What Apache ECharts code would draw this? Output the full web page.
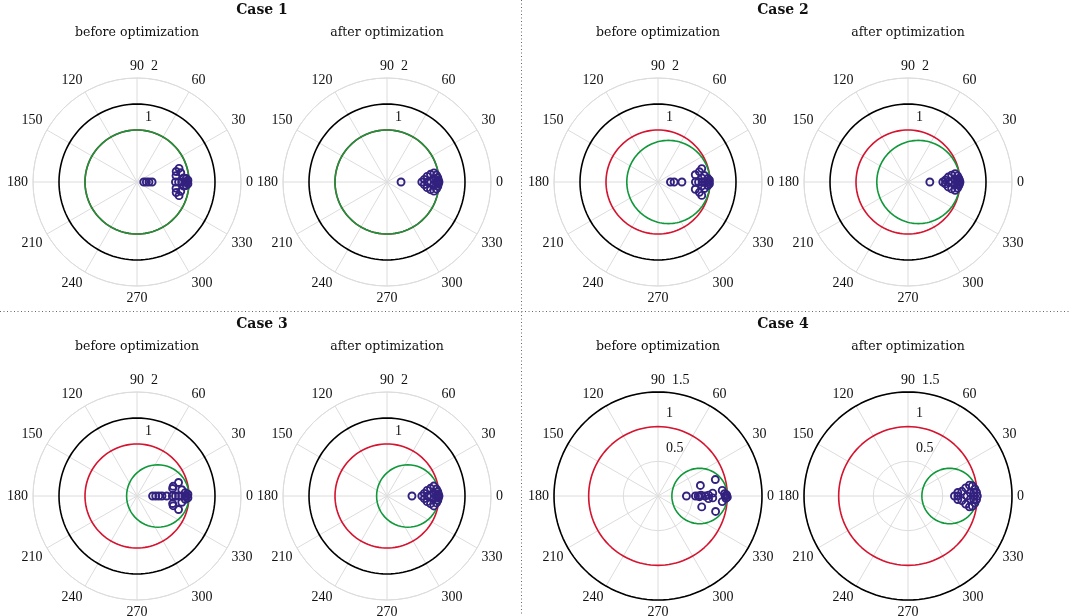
<!DOCTYPE html>
<html>
<head>
<meta charset="utf-8">
<script src="https://cdn.jsdelivr.net/npm/echarts@6/dist/echarts.min.js"></script>
<style>
  html, body { margin: 0; padding: 0; background: #fff; }
  #chart { width: 1069px; height: 616px; }
</style>
</head>
<body>
<div id="chart"></div>
<script>
// titles
const caseTitles = ['Case 1', 'Case 2', 'Case 3', 'Case 4'];
const panelTitles = ['before optimization', 'after optimization'];

// radial axis per case
const radialMax = [2, 2, 2, 1.5];
const radialStep = [1, 1, 1, 0.5];

// reference circles per case (radius units)
const blackCircleR = [1.5, 1.5, 1.5, 1.5];
const redCircleR = [1, 1, 1, 1];
const greenCircleOffset = [0, 0.2, 0.4, 0.6];
const greenCircleR = [1, 0.8, 0.6, 0.4];

// points [radius, angle in degrees]
const case1Before = [
  [0.13, 0], [0.18, 0], [0.23, 0], [0.29, 0],
  [0.74, 0], [0.8, 0], [0.86, 0], [0.92, 0], [0.96, 0], [0.98, 2], [0.98, -2],
  [0.95, 4], [0.95, -4], [0.9, 5], [0.9, -5],
  [0.76, 9], [0.78, 15], [0.85, 18], [0.86, 12],
  [0.76, -9], [0.78, -15], [0.85, -18], [0.86, -12]
];
const case1After = [
  [0.27, 0], [0.67, 0], [0.72, 4], [0.72, -4], [0.78, 8], [0.78, -8],
  [0.85, 10], [0.85, -10], [0.92, 11], [0.92, -11], [0.96, 8], [0.96, -8],
  [0.98, 5], [0.98, -5], [0.99, 2], [0.99, -2], [1.0, 0], [0.95, 0],
  [0.9, 3], [0.9, -3], [0.84, 0], [0.78, 0]
];
const case2Before = [
  [0.24, 0], [0.31, 0], [0.46, 0],
  [0.72, 0], [0.78, 0], [0.85, 0], [0.9, 0], [0.95, 0], [0.98, 0], [0.99, 2], [0.99, -2],
  [0.96, 4], [0.96, -4], [0.85, 5], [0.85, -5], [0.9, 8], [0.9, -8],
  [0.73, 11], [0.82, 14], [0.88, 17],
  [0.73, -11], [0.82, -14], [0.88, -17]
];
const case2After = [
  [0.42, 0], [0.67, 0], [0.72, 3], [0.72, -3], [0.78, 7], [0.78, -7],
  [0.85, 9], [0.85, -9], [0.92, 10], [0.92, -10], [0.96, 7], [0.96, -7],
  [0.98, 4], [0.98, -4], [0.99, 2], [0.99, -2], [1.0, 0], [0.95, 0],
  [0.9, 3], [0.9, -3], [0.84, 0], [0.78, 0]
];
const case3Before = [
  [0.3, 0], [0.36, 0], [0.42, 0], [0.48, 0], [0.57, 0],
  [0.68, 0], [0.74, 0], [0.8, 0], [0.86, 0], [0.92, 0], [0.96, 0], [0.98, 2], [0.98, -2],
  [0.93, 4], [0.93, -4], [0.87, 8], [0.87, -8],
  [0.7, 12], [0.72, 15], [0.84, 18],
  [0.7, -12], [0.72, -15], [0.84, -18]
];
const case3After = [
  [0.48, 0], [0.67, 0], [0.72, 4], [0.72, -4], [0.78, 8], [0.78, -8],
  [0.85, 10], [0.85, -10], [0.92, 12], [0.92, -12], [0.96, 8], [0.96, -8],
  [0.98, 5], [0.98, -5], [0.99, 2], [0.99, -2], [1.0, 0], [0.95, 0],
  [0.9, 3], [0.9, -3], [0.84, 0], [0.78, 0]
];
const case4Before = [
  [0.41, 0], [0.54, 0], [0.58, 0], [0.62, 1], [0.6, -1], [0.68, 0],
  [0.73, 1], [0.73, -3], [0.79, 3], [0.79, -2],
  [0.63, 14], [0.65, -14], [0.86, 16], [0.86, -15],
  [0.93, 5], [0.93, -5], [0.96, 2], [0.97, 0], [0.98, -2], [0.99, 1], [1.0, -1]
];
const case4After = [
  [0.67, 0], [0.72, 0], [0.72, 4], [0.72, -4], [0.78, 5], [0.78, -5],
  [0.84, 8], [0.84, -8], [0.9, 10], [0.9, -10], [0.94, 9], [0.94, -9],
  [0.97, 6], [0.97, -6], [0.99, 3], [0.99, -3], [1.0, 0], [0.95, 0],
  [0.95, 3], [0.95, -3], [0.9, 3], [0.9, -3], [0.85, 0]
];
const panelPoints = [case1Before, case1After, case2Before, case2After,
                     case3Before, case3After, case4Before, case4After];

// layout
const caseCenters = [[137, 182], [658, 182], [137, 496], [658, 496]];
const panelGap = 250;
const plotRadius = 104;
const overlayPad = 12;   // hidden outer polar so the circles are never clipped

const BLUE = '#33217f';
const RED = '#d7142f';
const GREEN = '#10983a';
const GRID = '#dcdcdc';
const SERIF = '"Liberation Serif", "DejaVu Serif", serif';

// angle axis runs 90..450 so that the radius axis sits at the top
function axisAngle(deg) {
  return ((deg - 90) % 360 + 360) % 360 + 90;
}

// outline of a circle with centre on the 0 deg axis
function circleOutline(offset, R) {
  const pts = [];
  for (let p = 0; p <= 360; p += 3) {
    const a = p * Math.PI / 180;
    const x = offset + R * Math.cos(a);
    const y = R * Math.sin(a);
    pts.push([Math.hypot(x, y), axisAngle(Math.atan2(y, x) * 180 / Math.PI)]);
  }
  return pts;
}

const polar = [], angleAxis = [], radiusAxis = [], series = [], graphic = [];
const overlayPolar = [], overlayAngle = [], overlayRadius = [];

for (let c = 0; c < 4; c++) {
  const [cx, cy] = caseCenters[c];
  graphic.push({
    type: 'text', x: cx + panelGap / 2, y: cy - 172,
    style: { text: caseTitles[c], fontFamily: '"DejaVu Serif", serif', fontWeight: 'bold',
             fontSize: 14, fill: '#111', textAlign: 'center', textVerticalAlign: 'middle' }
  });
  for (let k = 0; k < 2; k++) {
    const idx = c * 2 + k;
    const ovIdx = 8 + idx;
    const px = cx + k * panelGap;
    const rmax = radialMax[c];
    graphic.push({
      type: 'text', x: px, y: cy - 149,
      style: { text: panelTitles[k], fontFamily: '"DejaVu Serif", serif', fontSize: 12.5,
               fill: '#111', textAlign: 'center', textVerticalAlign: 'middle' }
    });
    polar.push({ center: [px, cy], radius: plotRadius });
    angleAxis.push({
      polarIndex: idx, type: 'value', min: 90, max: 450, interval: 30,
      startAngle: 90, clockwise: false,
      axisLine: { lineStyle: { color: GRID, width: 1 } },
      axisTick: { show: false },
      splitLine: { lineStyle: { color: GRID, width: 1 } },
      axisLabel: {
        margin: 5, color: '#111', fontFamily: SERIF, fontSize: 14,
        formatter: v => (v === 450 ? '' : String(v % 360))
      }
    });
    radiusAxis.push({
      polarIndex: idx, type: 'value', min: 0, max: rmax, interval: radialStep[c],
      axisLine: { show: false },
      axisTick: { show: false },
      splitLine: { lineStyle: { color: GRID, width: 1 } },
      axisLabel: {
        showMinLabel: false, margin: -6, align: 'left', verticalAlign: 'bottom',
        color: '#111', fontFamily: SERIF, fontSize: 14,
        formatter: v => (v === rmax ? '{far|' + v + '}' : '{near|' + v + '}'),
        rich: {
          far: { fontFamily: SERIF, fontSize: 14, color: '#111', padding: [0, 0, 5, 8] },
          near: { fontFamily: SERIF, fontSize: 14, color: '#111', padding: [0, 0, 6, 2] }
        }
      }
    });

    // same scale, larger clip area, nothing shown
    overlayPolar.push({ center: [px, cy], radius: plotRadius + overlayPad });
    overlayAngle.push({
      polarIndex: ovIdx, type: 'value', min: 90, max: 450, interval: 30,
      startAngle: 90, clockwise: false, show: false
    });
    overlayRadius.push({
      polarIndex: ovIdx, type: 'value', min: 0,
      max: rmax * (plotRadius + overlayPad) / plotRadius, show: false
    });

    const lineBase = {
      type: 'line', coordinateSystem: 'polar', polarIndex: ovIdx,
      showSymbol: false, symbol: 'none', silent: true, animation: false
    };
    series.push(Object.assign({}, lineBase, {
      data: circleOutline(0, blackCircleR[c]),
      lineStyle: { color: '#000', width: 1.6 }, z: 10
    }));
    series.push(Object.assign({}, lineBase, {
      data: circleOutline(0, redCircleR[c]),
      lineStyle: { color: RED, width: 1.6 }, z: 11
    }));
    series.push(Object.assign({}, lineBase, {
      data: circleOutline(greenCircleOffset[c], greenCircleR[c]),
      lineStyle: { color: GREEN, width: 1.6 }, z: 12
    }));
    series.push({
      type: 'scatter', coordinateSystem: 'polar', polarIndex: idx,
      symbol: 'circle', symbolSize: 7, silent: true, animation: false,
      data: panelPoints[idx].map(p => [p[0], axisAngle(p[1])]),
      itemStyle: { color: 'rgba(0,0,0,0)', borderColor: BLUE, borderWidth: 1.9, opacity: 1 },
      z: 13
    });
  }
}

// dotted dividers between cases
graphic.push({
  type: 'line', shape: { x1: 521.5, y1: 0, x2: 521.5, y2: 616 },
  style: { stroke: '#666', lineWidth: 1, lineDash: [1, 2.5] }
});
graphic.push({
  type: 'line', shape: { x1: 0, y1: 311.5, x2: 1069, y2: 311.5 },
  style: { stroke: '#666', lineWidth: 1, lineDash: [1, 2.5] }
});

const myChart = echarts.init(document.getElementById('chart'));
myChart.setOption({
  animation: false,
  polar: polar.concat(overlayPolar),
  angleAxis: angleAxis.concat(overlayAngle),
  radiusAxis: radiusAxis.concat(overlayRadius),
  series: series,
  graphic: graphic
});
</script>
</body>
</html>
